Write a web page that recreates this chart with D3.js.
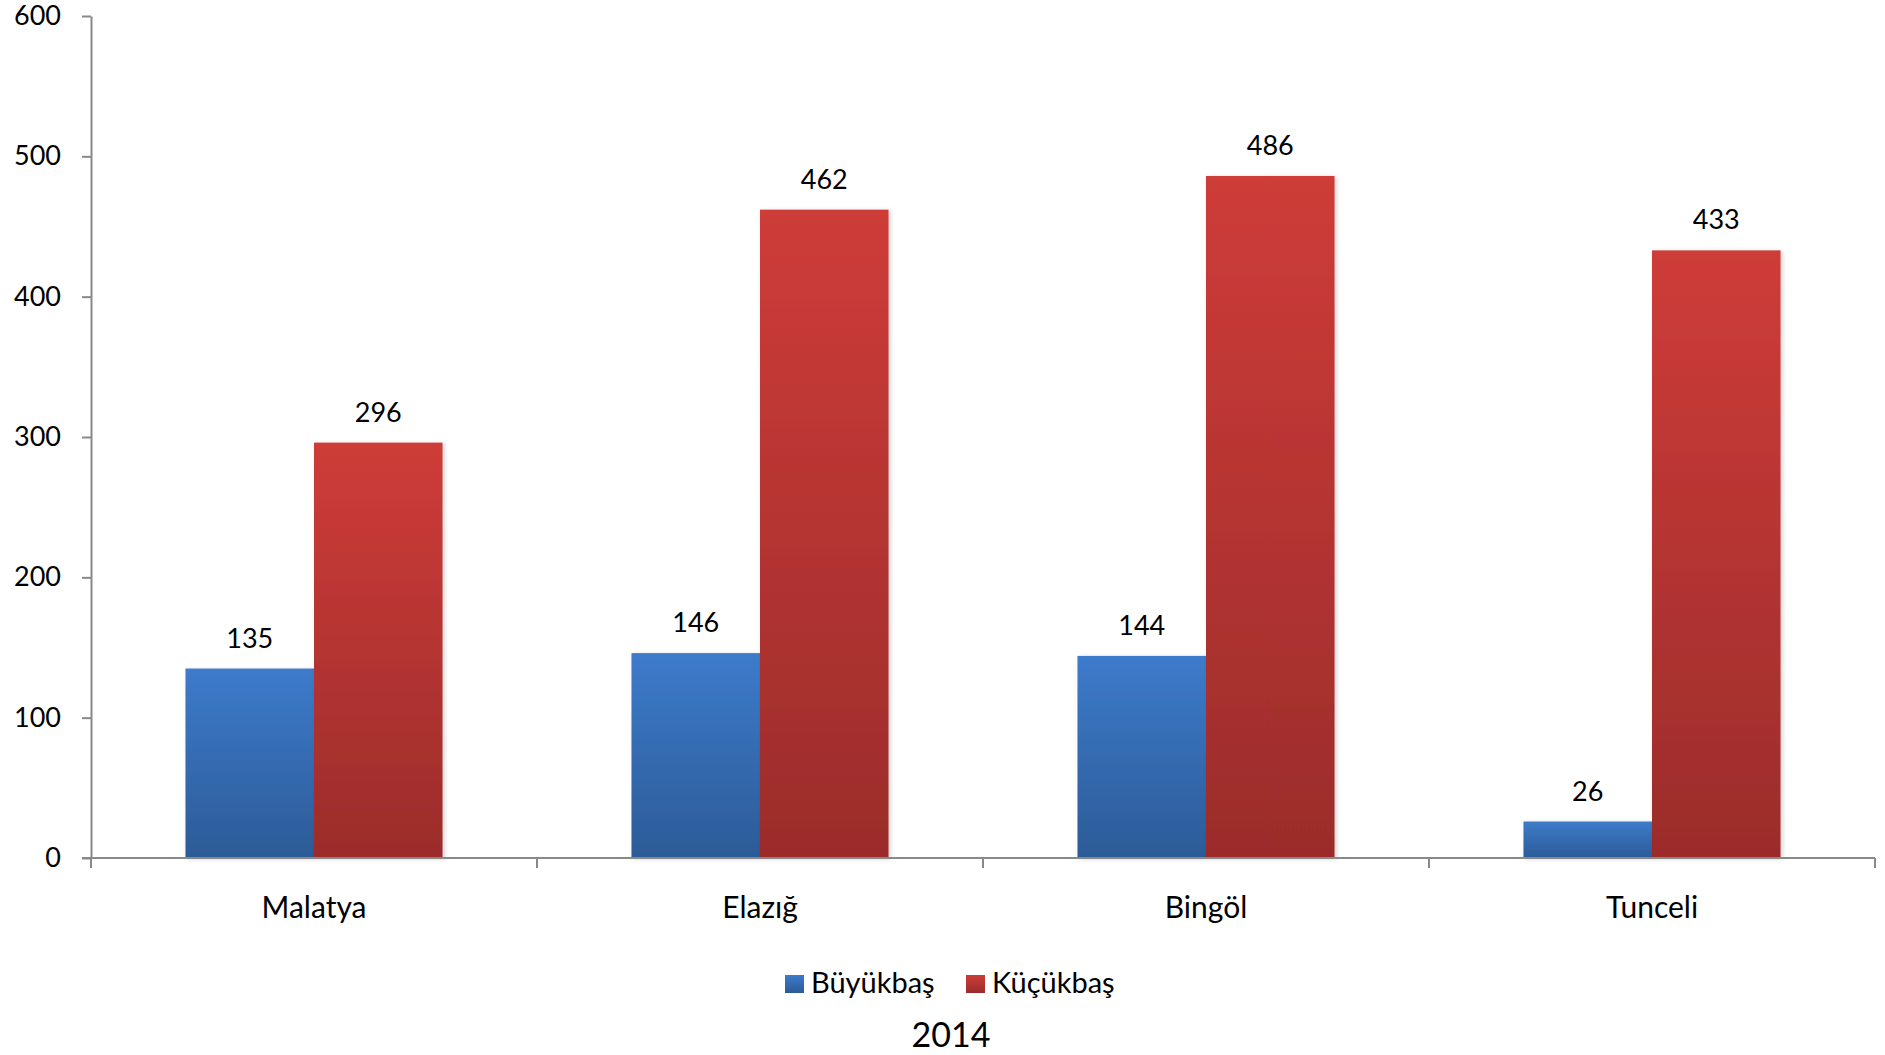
<!DOCTYPE html>
<html>
<head>
<meta charset="utf-8">
<script src="https://cdn.jsdelivr.net/npm/d3@7"></script>
<style>
  html, body { margin: 0; padding: 0; background: #fff; }
  svg { display: block; font-family: Lato, "Open Sans", sans-serif; }
</style>
</head>
<body>
<svg id="chart" width="1885" height="1055"></svg>
<script>
const categories = ["Malatya", "Elazığ", "Bingöl", "Tunceli"];
const seriesNames = ["Büyükbaş", "Küçükbaş"];
const buyukbas = [135, 146, 144, 26];
const kucukbas = [296, 462, 486, 433];
const yTicks = [0, 100, 200, 300, 400, 500, 600];
const chartTitle = "2014";

(function () {
const seriesValues = [buyukbas, kucukbas];
const gradStops = [["#3d7bcb", "#2c5b97"], ["#ce3c39", "#9b2c2b"]];

const svg = d3.select("#chart");
const defs = svg.append("defs");
seriesNames.forEach((s, i) => {
  const g = defs.append("linearGradient").attr("id", "grad" + i)
    .attr("x1", 0).attr("y1", 0).attr("x2", 0).attr("y2", 1);
  g.append("stop").attr("offset", "0%").attr("stop-color", gradStops[i][0]);
  g.append("stop").attr("offset", "100%").attr("stop-color", gradStops[i][1]);
});
const flt = defs.append("filter").attr("id", "shadow").attr("x", "-10%").attr("y", "-10%").attr("width", "130%").attr("height", "130%");
flt.append("feDropShadow").attr("dx", 2).attr("dy", 1).attr("stdDeviation", 2).attr("flood-color", "#000").attr("flood-opacity", 0.18);

const mLeft = 91, mRight = 1875, mTop = 16, mBottom = 858;
const y = d3.scaleLinear().domain([0, 600]).range([mBottom, mTop]);
const x0 = d3.scaleBand().domain(categories).range([mLeft, mRight]).paddingInner(0).paddingOuter(0);
const x1 = d3.scaleBand().domain(seriesNames).range([0, x0.bandwidth()]).paddingInner(0).paddingOuter(0.735);

// bars
const groups = svg.append("g").selectAll("g").data(categories).join("g")
  .attr("transform", d => `translate(${x0(d)},0)`);
groups.each(function(cat, ci) {
  const g = d3.select(this);
  seriesNames.forEach((s, si) => {
    const v = seriesValues[si][ci];
    g.append("rect")
      .attr("x", x1(s)).attr("y", y(v))
      .attr("width", x1.bandwidth()).attr("height", y(0) - y(v))
      .attr("fill", `url(#grad${si})`)
      .attr("filter", "url(#shadow)");
  });
});
// data labels
groups.each(function(cat, ci) {
  const g = d3.select(this);
  seriesNames.forEach((s, si) => {
    const v = seriesValues[si][ci];
    g.append("text")
      .attr("x", x1(s) + x1.bandwidth() / 2).attr("y", y(v) - 21)
      .attr("text-anchor", "middle").attr("font-size", 27).attr("fill", "#000")
      .text(v);
  });
});

// y axis
const yAxis = d3.axisLeft(y).tickValues(yTicks).tickSize(9).tickSizeOuter(0).tickPadding(21);
const yg = svg.append("g").attr("transform", `translate(${mLeft},0)`).call(yAxis);
yg.selectAll("path, line").attr("stroke", "#898989").attr("stroke-width", 2);
yg.selectAll("text").attr("font-size", 27).attr("fill", "#000").attr("font-family", "Lato, sans-serif");

// x axis
const xg = svg.append("g");
xg.append("line").attr("x1", mLeft - 9).attr("x2", mRight).attr("y1", mBottom).attr("y2", mBottom)
  .attr("stroke", "#898989").attr("stroke-width", 2);
const bounds = categories.map(c => x0(c)).concat([x0(categories[categories.length - 1]) + x0.bandwidth()]);
xg.selectAll("line.tick").data(bounds).join("line").attr("class", "tick")
  .attr("x1", d => d).attr("x2", d => d).attr("y1", mBottom).attr("y2", mBottom + 10)
  .attr("stroke", "#898989").attr("stroke-width", 2);
xg.selectAll("text").data(categories).join("text")
  .attr("x", d => x0(d) + x0.bandwidth() / 2).attr("y", 918)
  .attr("text-anchor", "middle").attr("font-size", 30).attr("fill", "#000")
  .text(d => d);

// legend
const legendItems = [{x: 785, tx: 811}, {x: 966, tx: 992}];
const lg = svg.append("g");
seriesNames.forEach((s, i) => {
  lg.append("rect").attr("x", legendItems[i].x).attr("y", 975).attr("width", 19).attr("height", 18)
    .attr("fill", `url(#grad${i})`);
  lg.append("text").attr("x", legendItems[i].tx).attr("y", 993).attr("font-size", 29).attr("fill", "#000").text(s);
});

// title
svg.append("text").attr("x", 951).attr("y", 1047).attr("text-anchor", "middle")
  .attr("font-size", 34).attr("fill", "#000").text(chartTitle);
})();
</script>
</body>
</html>
